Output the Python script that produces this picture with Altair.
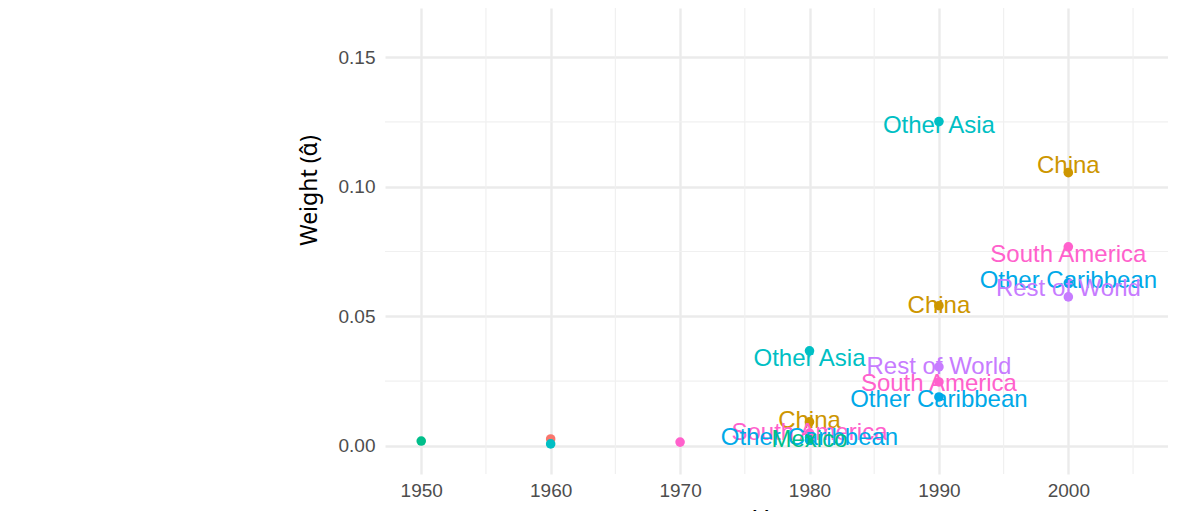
import altair as alt
import pandas as pd

# ---- data ----
years = [1950, 1960, 1960, 1970,
         1980, 1980, 1980, 1980, 1980,
         1990, 1990, 1990, 1990, 1990,
         2000, 2000, 2000, 2000]
origins = ["Mexico", "Europe", "Other Asia", "South America",
           "China", "Other Asia", "South America", "Other Caribbean", "Mexico",
           "Other Asia", "China", "Rest of World", "South America", "Other Caribbean",
           "China", "South America", "Other Caribbean", "Rest of World"]
weights = [0.0019, 0.0027, 0.0008, 0.0015,
           0.0093, 0.0367, 0.0050, 0.0035, 0.0023,
           0.1251, 0.0541, 0.0305, 0.0247, 0.0189,
           0.1054, 0.0768, 0.0629, 0.0575]
label_weights = [0.0019, 0.0027, 0.0008, 0.0015,
                 0.0096, 0.0336, 0.0050, 0.0031, 0.0023,
                 0.1234, 0.0540, 0.0305, 0.0239, 0.0177,
                 0.1080, 0.0737, 0.0636, 0.0605]
show_label = [False, False, False, False,
              True, True, True, True, True,
              True, True, True, True, True,
              True, True, True, True]

major_x = [1950, 1960, 1970, 1980, 1990, 2000]
minor_x = [1955, 1965, 1975, 1985, 1995, 2005]
major_y = [0.0, 0.05, 0.10, 0.15]
minor_y = [0.025, 0.075, 0.125]

color_domain = ["Europe", "China", "Mexico", "Other Asia", "Other Caribbean",
                "Rest of World", "South America"]
color_range = ["#F8766D", "#CD9600", "#00BE8A", "#00BFC4", "#00A9E8",
               "#C77CFF", "#FF61CC"]

df = pd.DataFrame({
    "year": years,
    "origin": origins,
    "weight": weights,
    "label_weight": label_weights,
    "label": [o if s else "" for o, s in zip(origins, show_label)],
})
lab_df = df[[bool(s) for s in show_label]]

FONT = "Liberation Sans"

xscale = alt.Scale(domain=[1947.2, 2007.7], nice=False, zero=False)
yscale = alt.Scale(domain=[-0.0108, 0.1689], nice=False, zero=False)

xaxis = alt.Axis(values=major_x, format="d", title="Year",
                 domain=False, ticks=False, grid=True,
                 gridColor="#EBEBEB", gridWidth=2.4,
                 labelFont=FONT, labelFontSize=19, labelColor="#4D4D4D",
                 labelPadding=7,
                 titleFont=FONT, titleFontSize=24, titleFontWeight="normal",
                 titleColor="#000000", titleY=33, titleBaseline="top")
yaxis = alt.Axis(values=major_y, format=".2f", title="Weight (\u03b1\u0302)",
                 domain=False, ticks=False, grid=True,
                 gridColor="#EBEBEB", gridWidth=2.4,
                 labelFont=FONT, labelFontSize=19, labelColor="#4D4D4D",
                 labelPadding=10,
                 titleFont="Noto Sans", titleFontSize=23, titleFontWeight="normal",
                 titleColor="#000000", titleX=-76, titleY=182,
                 titleAngle=270, titleBaseline="middle", titleAlign="center")

color = alt.Color("origin:N",
                  scale=alt.Scale(domain=color_domain, range=color_range),
                  legend=None)

minor_v = alt.Chart(pd.DataFrame({"year": minor_x})).mark_rule(
    color="#F0F0F0", strokeWidth=1.2
).encode(x=alt.X("year:Q", scale=xscale, axis=xaxis))

minor_h = alt.Chart(pd.DataFrame({"weight": minor_y})).mark_rule(
    color="#F0F0F0", strokeWidth=1.2
).encode(y=alt.Y("weight:Q", scale=yscale, axis=yaxis))

points = alt.Chart(df).mark_circle(size=92, opacity=1).encode(
    x=alt.X("year:Q", scale=xscale, axis=xaxis),
    y=alt.Y("weight:Q", scale=yscale, axis=yaxis),
    color=color,
)

texts = alt.Chart(lab_df).mark_text(
    font=FONT, fontSize=24, baseline="middle", align="center"
).encode(
    x=alt.X("year:Q", scale=xscale, axis=xaxis),
    y=alt.Y("label_weight:Q", scale=yscale, axis=yaxis),
    text="label:N",
    color=color,
)

chart = alt.layer(minor_v, minor_h, points, texts).properties(
    width=783,
    height=466,
    autosize=alt.AutoSizeParams(type="none"),
    padding={"left": 377, "top": 0, "right": 0, "bottom": 70},
    background="white",
).configure_view(stroke=None)

chart.save("out.html", embed_options={"renderer": "svg", "actions": False})
